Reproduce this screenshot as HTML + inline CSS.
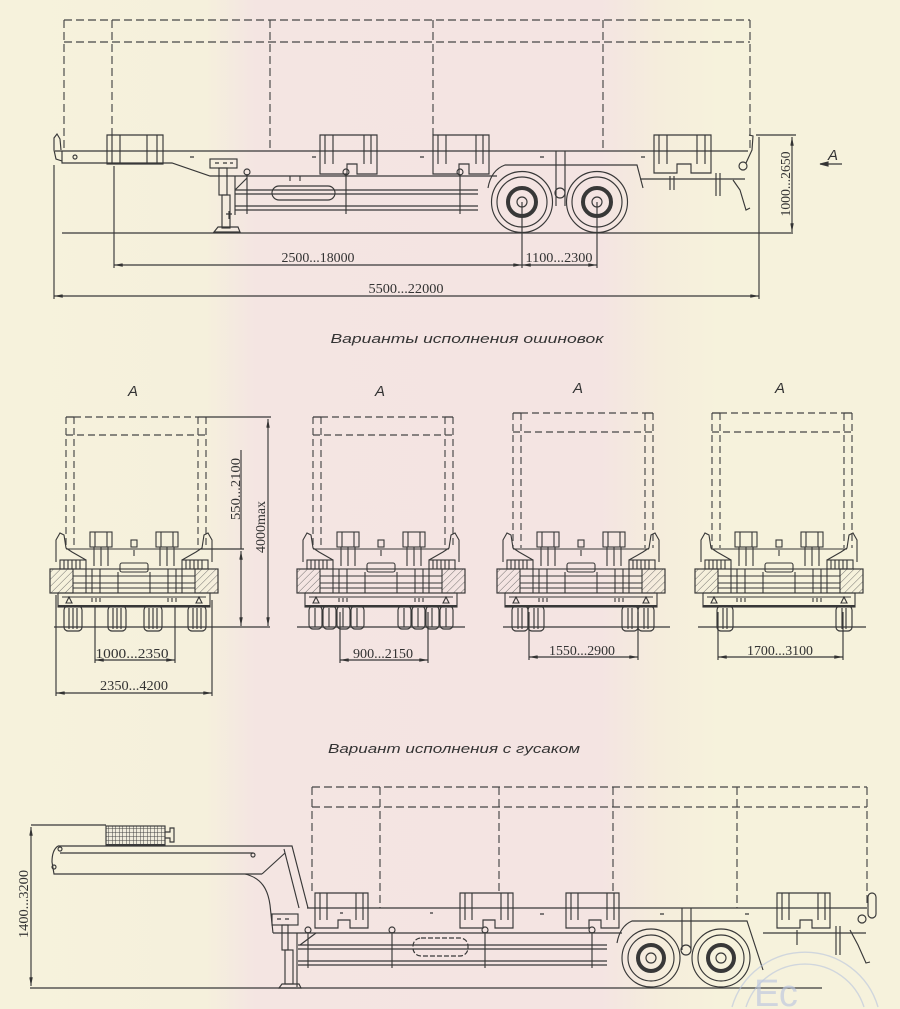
<!DOCTYPE html>
<html><head><meta charset="utf-8">
<style>
html,body{margin:0;padding:0;}
body{width:900px;height:1009px;overflow:hidden;position:relative;
background:linear-gradient(90deg,#f6f2dc 0px,#f5f0dc 205px,#f4e5e2 255px,#f4e4e2 600px,#f5eddc 660px,#f6f2dc 720px,#f6f2dc 900px);}
svg{position:absolute;left:0;top:0;display:block;}
.d{font-family:"Liberation Serif",serif;font-size:14px;fill:#333;}
.t{font-family:"Liberation Sans","DejaVu Sans",sans-serif;font-style:italic;font-size:13px;fill:#333;}
.a{font-family:"Liberation Sans",sans-serif;font-style:italic;font-size:15px;fill:#333;}
</style></head><body>
<svg width="900" height="1009" viewBox="0 0 900 1009" xmlns="http://www.w3.org/2000/svg">
<defs>
<pattern id="hatch" width="5" height="5" patternUnits="userSpaceOnUse" patternTransform="rotate(45)"><line x1="0" y1="0" x2="0" y2="5" stroke="#555" stroke-width="0.8"/></pattern>
<pattern id="grid" width="3.5" height="4" patternUnits="userSpaceOnUse"><rect width="3.5" height="4" fill="#f0ecdc"/><path d="M0,0H3.5M0,0V4" stroke="#444" stroke-width="1"/></pattern>
<marker id="ar" viewBox="0 0 10 4" refX="10" refY="2" markerWidth="10" markerHeight="3.5" markerUnits="userSpaceOnUse" orient="auto-start-reverse"><path d="M0,0L10,2L0,4Z" fill="#333"/></marker>

<g id="rb" fill="none" stroke="#383838" stroke-width="1.1">
 <path d="M56,562 L56,540 L60,533 L64,535 L66,548 L72,552 L86,560"/>
 <path d="M212,562 L212,540 L208,533 L204,535 L202,548 L196,552 L182,560"/>
 <path d="M66,549H202"/>
 <rect x="90" y="532" width="22" height="15"/>
 <path d="M95,532V547 M107,532V547 M94,547V566 M108,547V566 M101,547V566"/>
 <rect x="156" y="532" width="22" height="15"/>
 <path d="M161,532V547 M173,532V547 M160,547V566 M174,547V566 M167,547V566"/>
 <rect x="60" y="560" width="26" height="9"/>
 <path d="M64,560V569 M68,560V569 M72,560V569 M76,560V569 M80,560V569"/>
 <rect x="182" y="560" width="26" height="9"/>
 <path d="M186,560V569 M190,560V569 M194,560V569 M198,560V569 M202,560V569"/>
 <rect x="120" y="563" width="28" height="9" rx="2"/>
 <rect x="131" y="540" width="6" height="7"/>
 <path d="M134,550V556"/>
 <rect x="50" y="569" width="168" height="24"/>
 <rect x="50" y="569" width="23" height="24" fill="url(#hatch)"/>
 <rect x="195" y="569" width="23" height="24" fill="url(#hatch)"/>
 <path d="M73,576H195 M73,583H195 M73,588H195"/>
 <path d="M92,569V593 M100,569V593 M168,569V593 M176,569V593 M118,572V593 M150,572V593 M86,569V593 M182,569V593"/>
 <rect x="58" y="593" width="152" height="14"/>
 <path d="M62,597H206" />
 <path d="M58,606H210" stroke-width="2"/>
 <path d="M66,603 L69,597 L72,603Z M196,603 L199,597 L202,603Z"/>
 <path d="M92,598V602 M96,598V602 M100,598V602 M168,598V602 M172,598V602 M176,598V602"/>
</g>
<path id="b3" d="M0,893H53V928H35V920H23V928H0Z M5,893V920 M12,893V920 M41,893V920 M48,893V920"/>
</defs>

<g fill="none" stroke="#383838" stroke-width="1.15">

<!-- ================= TOP SIDE VIEW ================= -->
<g stroke-dasharray="8 4" stroke="#464646">
 <path d="M64,20H750 M64,42H750 M64,20V150 M112,20V135 M270,20V151 M433,20V135 M603,20V151 M750,20V148"/>
</g>
<path d="M55,151H748"/>
<path d="M62,151V163H172L210,176H497"/>
<path d="M62,161 L56,159 L54,150 L54,138 L57,134 L60,139 L61,150"/>
<circle cx="75" cy="157" r="2"/>
<path d="M190,157h4 M312,157h4 M420,157h4 M540,157h4 M641,157h4" />
<path d="M107,135H163V164H107Z M112,135V164 M120,135V164 M147,135V164 M157,135V164"/>
<path d="M320,135H377V174H357V164H347V174H320Z M325,135V164 M333,135V164 M364,135V164 M371,135V164"/>
<path d="M433,135H489V174H469V164H459V174H433Z M438,135V164 M446,135V164 M476,135V164 M483,135V164"/>
<path d="M654,135H711V173H691V164H677V173H654Z M659,135V164 M667,135V164 M697,135V164 M705,135V164"/>
<rect x="210" y="159" width="27" height="9"/>
<path d="M215,163h4 M223,163h4 M230,163h3"/>
<rect x="219" y="168" width="8" height="27"/>
<rect x="222" y="195" width="8" height="33"/>
<path d="M214,232 L218,227 H238 L240,232 Z"/>
<path d="M226,214h6 M229,211v8"/>
<path d="M235,176V215 M235,190 L247,178"/>
<path d="M235,190H478 M235,194H478 M235,206H478 M235,210H478"/>
<rect x="272" y="186" width="63" height="14" rx="7"/>
<path d="M290,176v5 M300,176v5"/>
<path d="M247,174V214 M346,174V214 M460,174V214"/>
<circle cx="247" cy="172" r="3"/><circle cx="346" cy="172" r="3"/><circle cx="460" cy="172" r="3"/>
<path d="M488,188 Q491,170 505,165 H637 L643,188"/>
<path d="M640,179H745"/>
<circle cx="522" cy="202" r="30.5"/>
<circle cx="522" cy="202" r="25"/>
<circle cx="522" cy="202" r="14" stroke-width="4"/>
<circle cx="522" cy="202" r="5"/>
<circle cx="597" cy="202" r="30.5"/>
<circle cx="597" cy="202" r="25"/>
<circle cx="597" cy="202" r="14" stroke-width="4"/>
<circle cx="597" cy="202" r="5"/>
<path d="M556,151V206 M565,151V206"/>
<circle cx="560" cy="193" r="5"/>
<path d="M749,135 L753,136 L752,150 L746,163"/>
<circle cx="743" cy="166" r="4"/>
<path d="M733,180 L740,190 L746,210 L750,208"/>
<path d="M670,176V190 M674,176V190 M716,173V196 M720,173V196"/>
<path d="M62,233H793"/>
<path d="M756,135H796"/>
<path d="M792,137V232" marker-start="url(#ar)" marker-end="url(#ar)"/>
<path d="M759,137V299"/>
<path d="M54,165V299"/>
<path d="M114,166V268"/>
<path d="M522,202V268 M597,202V268"/>
<path d="M114,265H522" marker-start="url(#ar)" marker-end="url(#ar)"/>
<path d="M522,265H597" marker-start="url(#ar)" marker-end="url(#ar)"/>
<path d="M54,296H759" marker-start="url(#ar)" marker-end="url(#ar)"/>
<path d="M820,164H842"/>
<path d="M820,164 l8,-2 v4z" fill="#333"/>

<!-- ================= REAR VIEWS ================= -->
<g stroke-dasharray="7 4" stroke="#464646">
 <path d="M66,417V548 M74,417V548 M198,417V548 M206,417V548 M74,417H198 M66,435H206"/>
 <path d="M313,417V548 M321,417V548 M445,417V548 M453,417V548 M321,417H445 M313,435H453"/>
 <path d="M513,413V548 M521,413V548 M645,413V548 M653,413V548 M521,413H645 M513,432H653"/>
 <path d="M712,413V548 M720,413V548 M844,413V548 M852,413V548 M720,413H844 M712,432H852"/>
</g>
<path d="M66,417H74 M198,417H206 M313,417H321 M445,417H453 M513,413H521 M645,413H653 M712,413H720 M844,413H852"/>
<use href="#rb"/>
<use href="#rb" x="247"/>
<use href="#rb" x="447"/>
<use href="#rb" x="645"/>
<g>
 <rect x="64" y="606" width="18" height="25" rx="4"/><path d="M69,608V629 M73,608V629 M77,608V629"/>
 <rect x="108" y="606" width="18" height="25" rx="4"/><path d="M113,608V629 M117,608V629 M121,608V629"/>
 <rect x="144" y="606" width="18" height="25" rx="4"/><path d="M149,608V629 M153,608V629 M157,608V629"/>
 <rect x="188" y="606" width="18" height="25" rx="4"/><path d="M193,608V629 M197,608V629 M201,608V629"/>
</g>
<g>
 <rect x="309" y="606" width="13" height="23" rx="4"/><rect x="323" y="606" width="13" height="23" rx="4"/>
 <rect x="337" y="606" width="13" height="23" rx="4"/><rect x="351" y="606" width="13" height="23" rx="4"/>
 <rect x="398" y="606" width="13" height="23" rx="4"/><rect x="412" y="606" width="13" height="23" rx="4"/>
 <rect x="426" y="606" width="13" height="23" rx="4"/><rect x="440" y="606" width="13" height="23" rx="4"/>
 <path d="M315,608V627 M329,608V627 M343,608V627 M357,608V627 M404,608V627 M418,608V627 M432,608V627 M446,608V627"/>
</g>
<g>
 <rect x="512" y="606" width="16" height="25" rx="4"/><rect x="528" y="606" width="16" height="25" rx="4"/>
 <rect x="622" y="606" width="16" height="25" rx="4"/><rect x="638" y="606" width="16" height="25" rx="4"/>
 <path d="M518,608V629 M522,608V629 M534,608V629 M538,608V629 M628,608V629 M632,608V629 M644,608V629 M648,608V629"/>
</g>
<g>
 <rect x="717" y="606" width="16" height="25" rx="4"/><rect x="836" y="606" width="16" height="25" rx="4"/>
 <path d="M723,608V629 M727,608V629 M842,608V629 M846,608V629"/>
</g>
<path d="M54,627H270 M297,627H465 M503,627H670 M698,627H866"/>
<path d="M206,417H271"/>
<path d="M268,419V626" marker-start="url(#ar)" marker-end="url(#ar)"/>
<path d="M200,549H244"/>
<path d="M241,450V549"/>
<path d="M241,551V626" marker-start="url(#ar)" marker-end="url(#ar)"/>
<path d="M95,606V663 M175,606V663"/>
<path d="M95,660H175" marker-start="url(#ar)" marker-end="url(#ar)"/>
<path d="M56,595V696 M212,600V696"/>
<path d="M56,693H212" marker-start="url(#ar)" marker-end="url(#ar)"/>
<path d="M340,612V663 M428,612V663"/>
<path d="M340,660H428" marker-start="url(#ar)" marker-end="url(#ar)"/>
<path d="M529,612V660 M638,612V660"/>
<path d="M529,657H638" marker-start="url(#ar)" marker-end="url(#ar)"/>
<path d="M718,612V660 M843,612V660"/>
<path d="M718,657H843" marker-start="url(#ar)" marker-end="url(#ar)"/>

<!-- ================= GOOSENECK VIEW ================= -->
<g stroke-dasharray="8 4" stroke="#464646">
 <path d="M312,787H867 M312,807H867 M312,787V893 M380,787V908 M499,787V893 M613,787V893 M737,787V908 M867,787V905"/>
</g>
<path d="M58,846H292 L308,908"/>
<path d="M60,853H253"/>
<path d="M58,846 Q52,850 52,862 L54,874 H262"/>
<path d="M262,874 L285,853"/>
<path d="M284,849 L299,908"/>
<path d="M245,874 C262,878 268,890 270,905 L273,933"/>
<circle cx="60" cy="849" r="2"/><circle cx="54" cy="867" r="2"/><circle cx="253" cy="855" r="2"/>
<rect x="106" y="826" width="59" height="19" fill="url(#grid)"/>
<path d="M165,832h5v-4h4v14h-4v-4h-5"/>
<path d="M307,908H867"/>
<path d="M273,933H622"/>
<use href="#b3" x="315"/>
<use href="#b3" x="460"/>
<use href="#b3" x="566"/>
<use href="#b3" x="777"/>
<path d="M340,913h3 M430,913h3 M540,914h4 M660,914h4 M745,914h4"/>
<rect x="272" y="914" width="26" height="11"/>
<path d="M277,919h4 M285,919h4"/>
<rect x="282" y="925" width="6" height="25"/>
<rect x="285" y="950" width="8" height="34"/>
<path d="M279,988 L282,984 H299 L301,988Z"/>
<path d="M297,933V987"/>
<path d="M298,945H607 M298,949H607 M298,961H607 M298,965H607"/>
<path d="M300,945 L316,933"/>
<rect x="413" y="938" width="55" height="18" rx="8" stroke-dasharray="5 2"/>
<path d="M308,932V968 M392,932V968 M485,932V968 M592,932V968"/>
<circle cx="308" cy="930" r="3"/><circle cx="392" cy="930" r="3"/><circle cx="485" cy="930" r="3"/><circle cx="592" cy="930" r="3"/>
<path d="M617,943 Q620,926 632,921 H747 L763,970"/>
<path d="M763,933H866"/>
<circle cx="651" cy="958" r="29"/>
<circle cx="651" cy="958" r="23"/>
<circle cx="651" cy="958" r="13" stroke-width="4"/>
<circle cx="651" cy="958" r="5"/>
<circle cx="721" cy="958" r="29"/>
<circle cx="721" cy="958" r="23"/>
<circle cx="721" cy="958" r="13" stroke-width="4"/>
<circle cx="721" cy="958" r="5"/>
<path d="M682,908V950 M691,908V950"/>
<circle cx="686" cy="950" r="5"/>
<rect x="868" y="893" width="8" height="25" rx="4"/>
<circle cx="862" cy="919" r="4"/>
<path d="M850,930 L858,945 L866,963 L870,962"/>
<path d="M797,930V945 M836,926V955 M840,926V955"/>
<path d="M30,988H822"/>
<path d="M31,825H106"/>
<path d="M31,827V986" marker-start="url(#ar)" marker-end="url(#ar)"/>

<!-- stamp (arcs kept inside frame) -->
<g stroke="#b8c4de" stroke-width="1.4" opacity="0.6">
 <path d="M732,1007 A76,76 0 0 1 878,1007"/>
 <path d="M746,1007 A62,62 0 0 1 864,1007"/>
</g>
</g>

<!-- ================= TEXT ================= -->
<text class="d" x="318" y="262" text-anchor="middle" textLength="73" lengthAdjust="spacingAndGlyphs">2500...18000</text>
<text class="d" x="559" y="262" text-anchor="middle" textLength="67" lengthAdjust="spacingAndGlyphs">1100...2300</text>
<text class="d" x="406" y="293" text-anchor="middle" textLength="75" lengthAdjust="spacingAndGlyphs">5500...22000</text>
<text class="d" transform="translate(790,184) rotate(-90)" text-anchor="middle" textLength="65" lengthAdjust="spacingAndGlyphs">1000...2650</text>
<text class="a" x="833" y="160" text-anchor="middle">A</text>

<text class="t" x="467" y="343" text-anchor="middle" textLength="273" lengthAdjust="spacingAndGlyphs">Варианты  исполнения   ошиновок</text>

<text class="a" x="133" y="396" text-anchor="middle">A</text>
<text class="a" x="380" y="396" text-anchor="middle">A</text>
<text class="a" x="578" y="393" text-anchor="middle">A</text>
<text class="a" x="780" y="393" text-anchor="middle">A</text>

<text class="d" transform="translate(240,489) rotate(-90)" text-anchor="middle" textLength="62" lengthAdjust="spacingAndGlyphs">550...2100</text>
<text class="d" transform="translate(265,527) rotate(-90)" text-anchor="middle" textLength="52" lengthAdjust="spacingAndGlyphs">4000max</text>
<text class="d" x="132" y="658" text-anchor="middle" textLength="73" lengthAdjust="spacingAndGlyphs">1000...2350</text>
<text class="d" x="134" y="690" text-anchor="middle" textLength="68" lengthAdjust="spacingAndGlyphs">2350...4200</text>
<text class="d" x="383" y="658" text-anchor="middle" textLength="60" lengthAdjust="spacingAndGlyphs">900...2150</text>
<text class="d" x="582" y="655" text-anchor="middle" textLength="66" lengthAdjust="spacingAndGlyphs">1550...2900</text>
<text class="d" x="780" y="655" text-anchor="middle" textLength="66" lengthAdjust="spacingAndGlyphs">1700...3100</text>

<text class="t" x="454" y="753" text-anchor="middle" textLength="252" lengthAdjust="spacingAndGlyphs">Вариант  исполнения  с  гусаком</text>

<text class="d" transform="translate(28,904) rotate(-90)" text-anchor="middle" textLength="68" lengthAdjust="spacingAndGlyphs">1400...3200</text>

<text x="754" y="1006" font-family="Liberation Sans, sans-serif" font-size="38" fill="#bcc7e0" opacity="0.65">Ес</text>
</svg>
</body></html>
